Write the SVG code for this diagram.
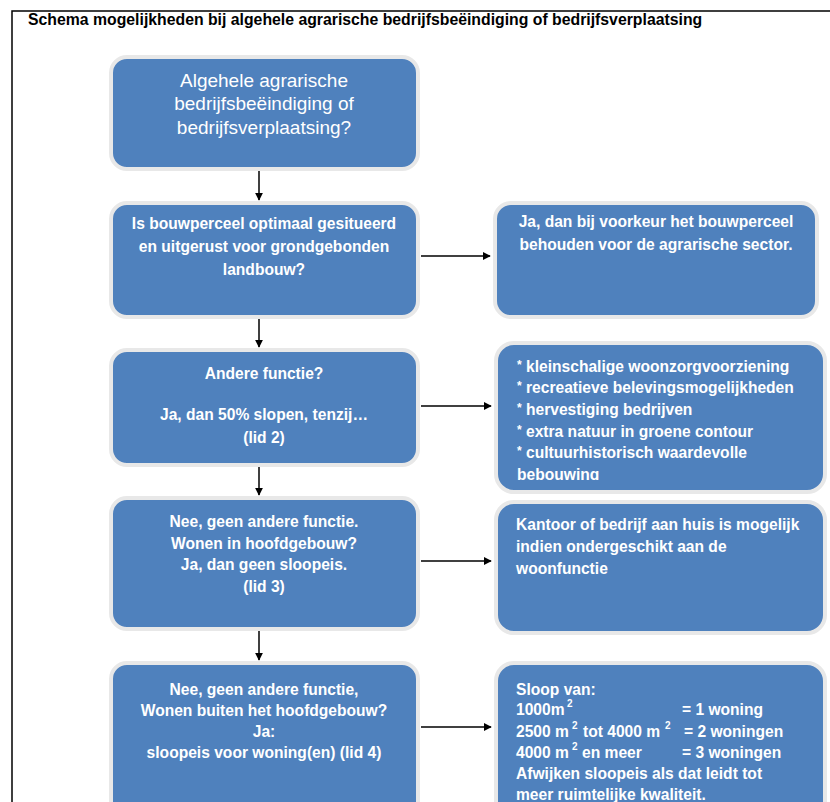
<svg xmlns="http://www.w3.org/2000/svg" width="830" height="802" viewBox="0 0 830 802">
<defs>
<style>
.frame{stroke:#000;stroke-width:1.5;fill:none}
.box{fill:#4F81BD;stroke:#e8e8e8;stroke-width:4}
.t{font-family:"Liberation Sans",Arial,sans-serif;fill:#fff;font-weight:bold;font-size:15.6px}
.c{text-anchor:middle}
.big{font-weight:normal;font-size:19px}
.sup{font-size:10px}
.ast{font-size:12px}
.title{font-family:"Liberation Sans",Arial,sans-serif;font-weight:bold;font-size:15.8px;fill:#000}
.conn{stroke:#000;stroke-width:1.5;fill:none;marker-end:url(#ah)}
</style>
<marker id="ah" viewBox="0 0 10 10" refX="9" refY="5" markerWidth="8" markerHeight="8" orient="auto" markerUnits="userSpaceOnUse">
<path d="M0,0 L10,5 L0,10 z" fill="#000"/>
</marker>
<clipPath id="clip3"><rect x="496" y="343" width="330" height="137"/></clipPath>
</defs>
<rect width="830" height="802" fill="#fff"/>
<path class="frame" d="M12,802 V11 H830"/>
<text class="title" x="28" y="25">Schema mogelijkheden bij algehele agrarische bedrijfsbeëindiging of bedrijfsverplaatsing</text>

<g id="connectors">
<line class="conn" x1="259" y1="170" x2="259" y2="200"/>
<line class="conn" x1="259" y1="319" x2="259" y2="347"/>
<line class="conn" x1="259" y1="467" x2="259" y2="495"/>
<line class="conn" x1="259" y1="631" x2="259" y2="660"/>
<line class="conn" x1="421" y1="256" x2="490" y2="256"/>
<line class="conn" x1="421" y1="406" x2="491" y2="406"/>
<line class="conn" x1="421" y1="561" x2="491" y2="561"/>
<line class="conn" x1="421" y1="727" x2="491" y2="727"/>
</g>

<g id="n1">
<rect class="box" x="111" y="57" width="307" height="112" rx="16"/>
<text class="t c big" x="264" y="87">Algehele agrarische</text>
<text class="t c big" x="264" y="110">bedrijfsbeëindiging of</text>
<text class="t c big" x="264" y="134">bedrijfsverplaatsing?</text>
</g>

<g id="n2">
<rect class="box" x="111" y="203" width="307" height="114" rx="16"/>
<text class="t c" x="264" y="229">Is bouwperceel optimaal gesitueerd</text>
<text class="t c" x="264" y="252">en uitgerust voor grondgebonden</text>
<text class="t c" x="264" y="275">landbouw?</text>
</g>

<g id="n2r">
<rect class="box" x="495" y="203" width="322" height="114" rx="16"/>
<text class="t c" x="656" y="227">Ja, dan bij voorkeur het bouwperceel</text>
<text class="t c" x="656" y="250">behouden voor de agrarische sector.</text>
</g>

<g id="n3">
<rect class="box" x="111" y="350" width="307" height="115" rx="16"/>
<text class="t c" x="264" y="379">Andere functie?</text>
<text class="t c" x="264" y="420">Ja, dan 50% slopen, tenzij…</text>
<text class="t c" x="264" y="443">(lid 2)</text>
</g>

<g id="n3r">
<rect class="box" x="496" y="343" width="329" height="149" rx="18"/>
<g clip-path="url(#clip3)">
<text class="t" x="517" y="372"><tspan class="ast" dy="-3">*</tspan><tspan dy="3"> kleinschalige woonzorgvoorziening</tspan></text>
<text class="t" x="517" y="393"><tspan class="ast" dy="-3">*</tspan><tspan dy="3"> recreatieve belevingsmogelijkheden</tspan></text>
<text class="t" x="517" y="415"><tspan class="ast" dy="-3">*</tspan><tspan dy="3"> hervestiging bedrijven</tspan></text>
<text class="t" x="517" y="437"><tspan class="ast" dy="-3">*</tspan><tspan dy="3"> extra natuur in groene contour</tspan></text>
<text class="t" x="517" y="458"><tspan class="ast" dy="-3">*</tspan><tspan dy="3"> cultuurhistorisch waardevolle</tspan></text>
<text class="t" x="517" y="480">bebouwing</text>
</g>
</g>

<g id="n4">
<rect class="box" x="111" y="498" width="307" height="131" rx="16"/>
<text class="t c" x="264" y="527">Nee, geen andere functie.</text>
<text class="t c" x="264" y="549">Wonen in hoofdgebouw?</text>
<text class="t c" x="264" y="570">Ja, dan geen sloopeis.</text>
<text class="t c" x="264" y="592">(lid 3)</text>
</g>

<g id="n4r">
<rect class="box" x="496" y="502" width="329" height="131" rx="18"/>
<text class="t" x="516" y="530">Kantoor of bedrijf aan huis is mogelijk</text>
<text class="t" x="516" y="552">indien ondergeschikt aan de</text>
<text class="t" x="516" y="574">woonfunctie</text>
</g>

<g id="n5">
<rect class="box" x="111" y="663" width="307" height="160" rx="16"/>
<text class="t c" x="264" y="695">Nee, geen andere functie,</text>
<text class="t c" x="264" y="716">Wonen buiten het hoofdgebouw?</text>
<text class="t c" x="264" y="737">Ja:</text>
<text class="t c" x="264" y="758">sloopeis voor woning(en) (lid 4)</text>
</g>

<g id="n5r">
<rect class="box" x="496" y="663" width="329" height="160" rx="18"/>
<text class="t" x="516" y="695">Sloop van:</text>
<text class="t" x="516" y="715">1000m</text>
<text class="t sup" x="567" y="707">2</text>
<text class="t" x="682" y="715">= 1 woning</text>
<text class="t" x="516" y="737">2500 m</text>
<text class="t sup" x="572" y="729">2</text>
<text class="t" x="583" y="737">tot 4000 m</text>
<text class="t sup" x="665" y="729">2</text>
<text class="t" x="684" y="737">= 2 woningen</text>
<text class="t" x="516" y="758">4000 m</text>
<text class="t sup" x="572" y="750">2</text>
<text class="t" x="582" y="758">en meer</text>
<text class="t" x="682" y="758">= 3 woningen</text>
<text class="t" x="516" y="779">Afwijken sloopeis als dat leidt tot</text>
<text class="t" x="516" y="800">meer ruimtelijke kwaliteit.</text>
</g>
</svg>
